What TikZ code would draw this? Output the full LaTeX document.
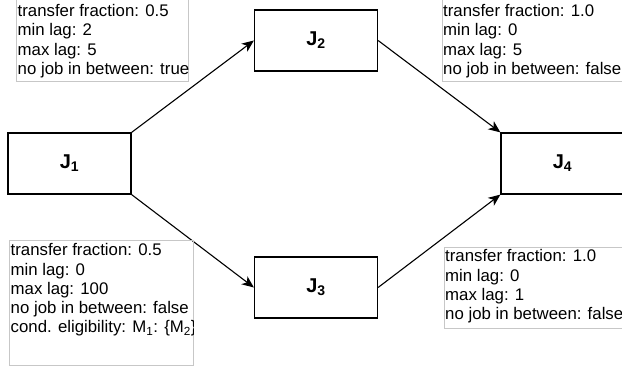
\documentclass[tikz,border=0pt]{standalone}
\usepackage{fontspec}
\setmainfont{Liberation Sans}
\usetikzlibrary{arrows.meta, positioning}

\tikzset{
    job/.style={draw, line width=1.2pt, minimum width=123pt, minimum height=61pt,
        inner sep=0pt, font=\fontsize{20}{22}\selectfont\bfseries},
    infobox/.style={draw=black!22, line width=0.8pt, anchor=north west, inner sep=0pt},
    infotext/.style={anchor=north west, align=left, inner sep=0pt,
        font=\fontsize{16.8}{19.2}\selectfont},
    flow/.style={-{Stealth[length=12pt, width=10pt, inset=3.5pt]}, line width=1.1pt},
}

\begin{document}
\begin{tikzpicture}[x=1pt, y=-1pt]
    \useasboundingbox (0,0) rectangle (622,366);

    % Jobs
    \node[job](J1)  at (69.5,163.5)  {J\textsubscript{1}};
    \node[job](J2)  at (316,40.5)    {J\textsubscript{2}};
    \node[job](J3)  at (316,287.5)   {J\textsubscript{3}};
    \node[job](J4)  at (562.5,163.5) {J\textsubscript{4}};

    % Transitions
    \path
        (J1.north east)
            edge [flow] (J2.west)
        (J1.south east)
            edge [flow] (J3.west)
        (J2.east)
            edge [flow] (J4.north west)
        (J3.east)
            edge [flow] (J4.south west)
        ;

    % Lag boxes
    \node[infobox, minimum width=172pt, minimum height=82pt](lag12) at (16,-1) {};
    \node[infotext](txt12) at (17.5,4.3)
        {transfer fraction: 0.5\\min lag: 2\\max lag: 5\\no job in between: true};

    \node[infobox, minimum width=182pt, minimum height=82pt](lag24) at (442,-1) {};
    \node[infotext](txt24) at (443,4.3)
        {transfer fraction: 1.0\\min lag: 0\\max lag: 5\\no job in between: false};

    \node[infobox, minimum width=184pt, minimum height=125pt](lag13) at (9,240) {};
    \begin{scope}
        \clip (lag13.north west) rectangle (lag13.south east);
        \node[infotext](txt13) at (10.5,243.6)
            {transfer fraction: 0.5\\min lag: 0\\max lag: 100\\no job in between: false\\
             cond. eligibility: M\textsubscript{1}: \{M\textsubscript{2}\}};
    \end{scope}

    \node[infobox, minimum width=180pt, minimum height=81pt](lag34) at (444,247) {};
    \node[infotext](txt34) at (445,249.6)
        {transfer fraction: 1.0\\min lag: 0\\max lag: 1\\no job in between: false};
\end{tikzpicture}
\end{document}
